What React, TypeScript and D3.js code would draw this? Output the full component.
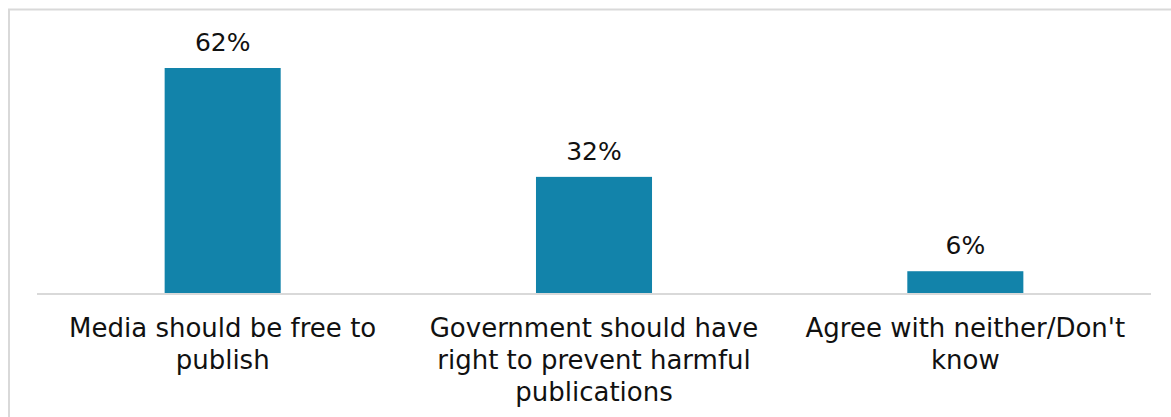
import React from "react";
import * as d3 from "d3";

const categories: string[][] = [
  ["Media should be free to", "publish"],
  ["Government should have", "right to prevent harmful", "publications"],
  ["Agree with neither/Don't", "know"],
];
const values: number[] = [62, 32, 6];
const valueLabels: string[] = ["62%", "32%", "6%"];

const W = 1171;
const H = 417;
const plotLeft = 37;
const plotRight = 1151;
const plotBottom = 293;
const FONT = "'DejaVu Sans', sans-serif";

export default function App() {
  const keys = categories.map((c) => c.join(" "));
  const x = d3
    .scaleBand<string>()
    .domain(keys)
    .range([plotLeft, plotRight])
    .paddingInner(0.6875)
    .paddingOuter(0.34375);
  const y = d3.scaleLinear().domain([0, 62]).range([plotBottom, 68]);

  return (
    <svg
      width={W}
      height={H}
      style={{ position: "absolute", left: 0, top: 0, background: "#fff" }}
    >
      <rect x={9} y={9.5} width={W + 20} height={H + 20} fill="#fff" stroke="#d9d9d9" strokeWidth={2} />
      {values.map((v, i) => {
        const bx = x(keys[i])!;
        const bw = x.bandwidth();
        return (
          <g key={i}>
            <rect x={bx} y={y(v)} width={bw} height={plotBottom - y(v)} fill="#1283aa" />
            <text
              x={bx + bw / 2}
              y={y(v) - 17}
              textAnchor="middle"
              fontFamily={FONT}
              fontSize={25}
              fill="#111"
            >
              {valueLabels[i]}
            </text>
          </g>
        );
      })}
      <line x1={plotLeft} x2={plotRight} y1={plotBottom + 1} y2={plotBottom + 1} stroke="#d9d9d9" strokeWidth={2} />
      {categories.map((lines, i) => {
        const cx = x(keys[i])! + x.bandwidth() / 2;
        return (
          <text key={i} textAnchor="middle" fontFamily={FONT} fontSize={26} fill="#111">
            {lines.map((l, j) => (
              <tspan key={j} x={cx} y={337 + j * 32}>
                {l}
              </tspan>
            ))}
          </text>
        );
      })}
    </svg>
  );
}
